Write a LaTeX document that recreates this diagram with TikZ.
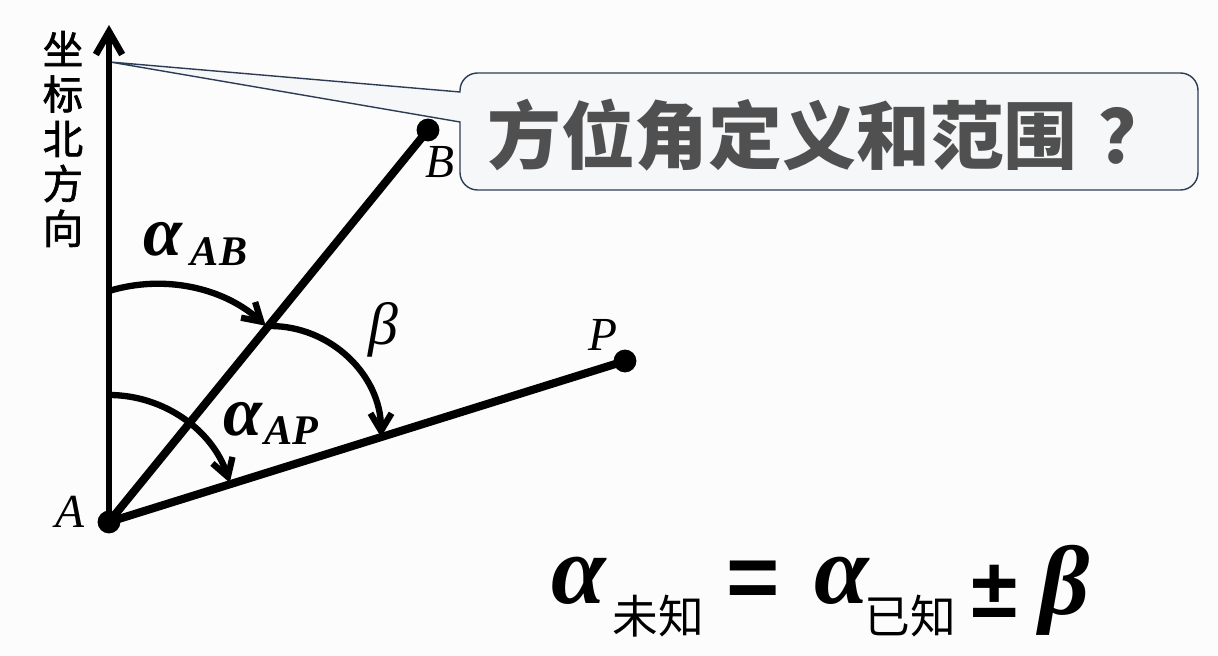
\documentclass[tikz,border=0pt]{standalone}
\usepackage{fontspec}
\setmainfont{Liberation Serif}
\setsansfont{Liberation Sans}
\newfontfamily\cjk{Noto Sans CJK SC}
\newfontfamily\cjkmid[FakeBold=1.6]{Noto Sans CJK SC}
\usetikzlibrary{arrows.meta}
\definecolor{bubbleline}{RGB}{45,60,85}
\definecolor{bubblefill}{RGB}{246,247,249}
\definecolor{asktext}{RGB}{80,80,80}
\definecolor{paper}{RGB}{252,252,253}
\tikzset{
  axisline/.style = {line width=3.8pt, -{Straight Barb[length=13pt,width=15pt]}},
  ray/.style = {line width=4.6pt},
  anglearc/.style = {line width=3.6pt, -{Straight Barb[length=10pt,width=12pt]}},
  dot/.style = {circle, fill=black, inner sep=0pt, minimum size=13pt},
  ptlabel/.style = {font=\fontsize{27}{27}\selectfont\itshape, inner sep=0pt},
  greek/.style = {font=\fontsize{40}{40}\selectfont\bfseries\itshape, inner sep=0pt},
  sublabel/.style = {font=\fontsize{24}{24}\selectfont\bfseries\itshape, inner sep=0pt},
  bubble/.style = {draw=bubbleline, fill=bubblefill, line width=0.8pt},
  bigsym/.style = {font=\fontsize{56}{56}\selectfont\bfseries\itshape, inner sep=0pt},
  cjksub/.style = {font=\fontsize{26}{26}\selectfont\cjk, inner sep=0pt}
}

\begin{document}
\begin{tikzpicture}[x=0.02cm, y=0.02cm]
      \useasboundingbox (0,0) rectangle (1218,656);
      \fill[paper] (0,0) rectangle (1218,656);

      % points of the figure
      \coordinate (N) at (109,631);
      \coordinate (tip) at (110,594);

      % callout with the question
      \draw[bubble] (tip) -- (460,534) [rounded corners=10pt] -- (460,466) -- (1198,466)
        -- (1198,583) -- (460,583) [sharp corners] -- (460,564) -- cycle;
      \node[font=\fontsize{42}{42}\selectfont\cjk\bfseries, text=asktext, anchor=west, inner sep=0pt] (ask) at (487,521) {方位角定义和范围\hspace{12pt}？};

      % north axis and the two rays
      \node[dot] (A) at (109,134) {};
      \node[dot] (B) at (428,526) {};
      \node[dot] (P) at (625,295) {};
      \draw[axisline] (A.center) -- (N);
      \draw[ray] (A.center) -- (B.center);
      \draw[ray] (A.center) -- (P.center);

      % angle arcs
      \draw[anglearc] (109,365) arc[start angle=107, end angle=48, radius=163];
      \draw[anglearc] (270,330) arc[start angle=90, end angle=0, radius=111];
      \draw[anglearc] (109,261) arc[start angle=90, end angle=18, radius=127];

      % labels
      \node[font=\fontsize{23}{25.5}\selectfont\cjkmid, align=center] (north) at (63,517) {坐\\标\\北\\方\\向};
      \node[ptlabel] (lA) at (70,144) {A};
      \node[ptlabel] (lB) at (440,494) {B};
      \node[ptlabel] (lP) at (603,321) {P};
      \node[greek] (aAB) at (163,417) {α};
      \node[sublabel] (sAB) at (219,404) {AB};
      \node[font=\fontsize{34}{34}\selectfont\itshape, inner sep=0pt] (beta) at (383,326) {β};
      \node[greek] (aAP) at (243,237) {α};
      \node[sublabel] (sAP) at (291,225) {AP};

      % formula
      \node[bigsym] (a1) at (579,75) {α};
      \node[cjksub] (s1) at (658,40) {未知};
      \node[font=\fontsize{52}{52}\selectfont\sffamily\bfseries, inner sep=0pt] (eq) at (753,71) {=};
      \node[bigsym] (a2) at (842,75) {α};
      \node[cjksub] (s2) at (910,40) {已知};
      \node[font=\fontsize{48}{48}\selectfont\sffamily\bfseries, inner sep=0pt] (pm) at (995,65) {±};
      \node[bigsym] (be) at (1065,66) {β};
\end{tikzpicture}
\end{document}
